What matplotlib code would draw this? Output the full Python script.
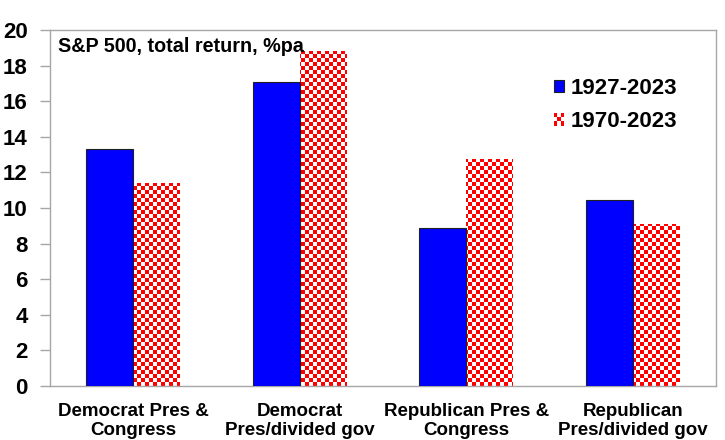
import matplotlib
matplotlib.use("Agg")
import matplotlib.pyplot as plt
import matplotlib.patches as mpatches
from matplotlib.legend_handler import HandlerBase
import numpy as np

categories = ["Democrat Pres &\nCongress", "Democrat\nPres/divided gov",
              "Republican Pres &\nCongress", "Republican\nPres/divided gov"]
series_names = ["1927-2023", "1970-2023"]
ret_1927 = [13.3, 17.1, 8.9, 10.45]
ret_1970 = [11.4, 18.8, 12.75, 9.1]
title = "S&P 500, total return, %pa"

BLUE = "#0000FF"
RED = "#FF0000"
GRID_GRAY = "#A6A6A6"


def checker(nrows, ncols):
    # red/white checkerboard as an RGB array
    ii, jj = np.indices((nrows, ncols))
    mask = (ii + jj) % 2 == 0
    img = np.ones((nrows, ncols, 3))
    img[mask] = [1.0, 0.0, 0.0]
    return img


class CheckerHandler(HandlerBase):
    def create_artists(self, legend, orig_handle, xdescent, ydescent,
                       width, height, fontsize, trans):
        n = 3
        cw, ch = width / n, height / n
        arts = []
        for i in range(n):
            for j in range(n):
                if (i + j) % 2 == 0:
                    r = mpatches.Rectangle((-xdescent + j * cw, -ydescent + i * ch),
                                           cw, ch, facecolor=RED, lw=0,
                                           transform=trans)
                    arts.append(r)
        return arts


fig = plt.figure(figsize=(7.25, 4.4), dpi=100)
ax = fig.add_axes([50 / 725, 54 / 440, 666 / 725, 356 / 440])

x = np.arange(len(categories))
width = 0.282

ax.bar(x - width / 2, ret_1927, width, color=BLUE, edgecolor="#202020",
       linewidth=0.8, zorder=3)
red_bars = ax.bar(x + width / 2, ret_1970, width, color="white",
                  linewidth=0, zorder=2)

ax.set_xlim(-0.5, len(categories) - 0.5)
ax.set_ylim(0, 20)

# checkerboard fill for the second series, cells of about 4 px
big = checker(89, 167)
for bar in red_bars:
    im = ax.imshow(big, extent=(-0.5, len(categories) - 0.5, 0, 20),
                   aspect="auto", interpolation="nearest", zorder=2.5)
    im.set_clip_path(bar)

ax.set_xlim(-0.5, len(categories) - 0.5)
ax.set_ylim(0, 20)
ax.set_yticks(range(0, 21, 2))
ax.set_yticklabels([str(v) for v in range(0, 21, 2)], fontsize=16,
                   fontweight="bold", family="Liberation Sans")
ax.set_xticks(x)
ax.set_xticklabels(categories, fontsize=13.5, fontweight="bold",
                   family=["Liberation Sans Narrow", "Liberation Sans"],
                   linespacing=1.15)

ax.tick_params(axis="y", length=7, width=1, color=GRID_GRAY, pad=9)
ax.tick_params(axis="x", length=0, pad=12)
for s in ax.spines.values():
    s.set_color(GRID_GRAY)
    s.set_linewidth(1)

ax.text(0.012, 0.939, title, transform=ax.transAxes, fontsize=14.2,
        fontweight="bold", family="Liberation Sans", va="baseline",
        zorder=5)

h1 = mpatches.Patch(facecolor=BLUE, edgecolor="#202020", linewidth=0.8)
h2 = mpatches.Patch(facecolor=RED)
leg = ax.legend([h1, h2], series_names, handler_map={h2: CheckerHandler()},
                loc="upper left", bbox_to_anchor=(554 / 725, 1 - 78 / 440),
                bbox_transform=fig.transFigure, frameon=False,
                prop={"family": "Liberation Sans", "weight": "bold", "size": 16},
                handlelength=0.45, handleheight=0.5, handletextpad=0.3,
                labelspacing=0.55, borderpad=0, borderaxespad=0)

fig.savefig("out.png", dpi=100)
